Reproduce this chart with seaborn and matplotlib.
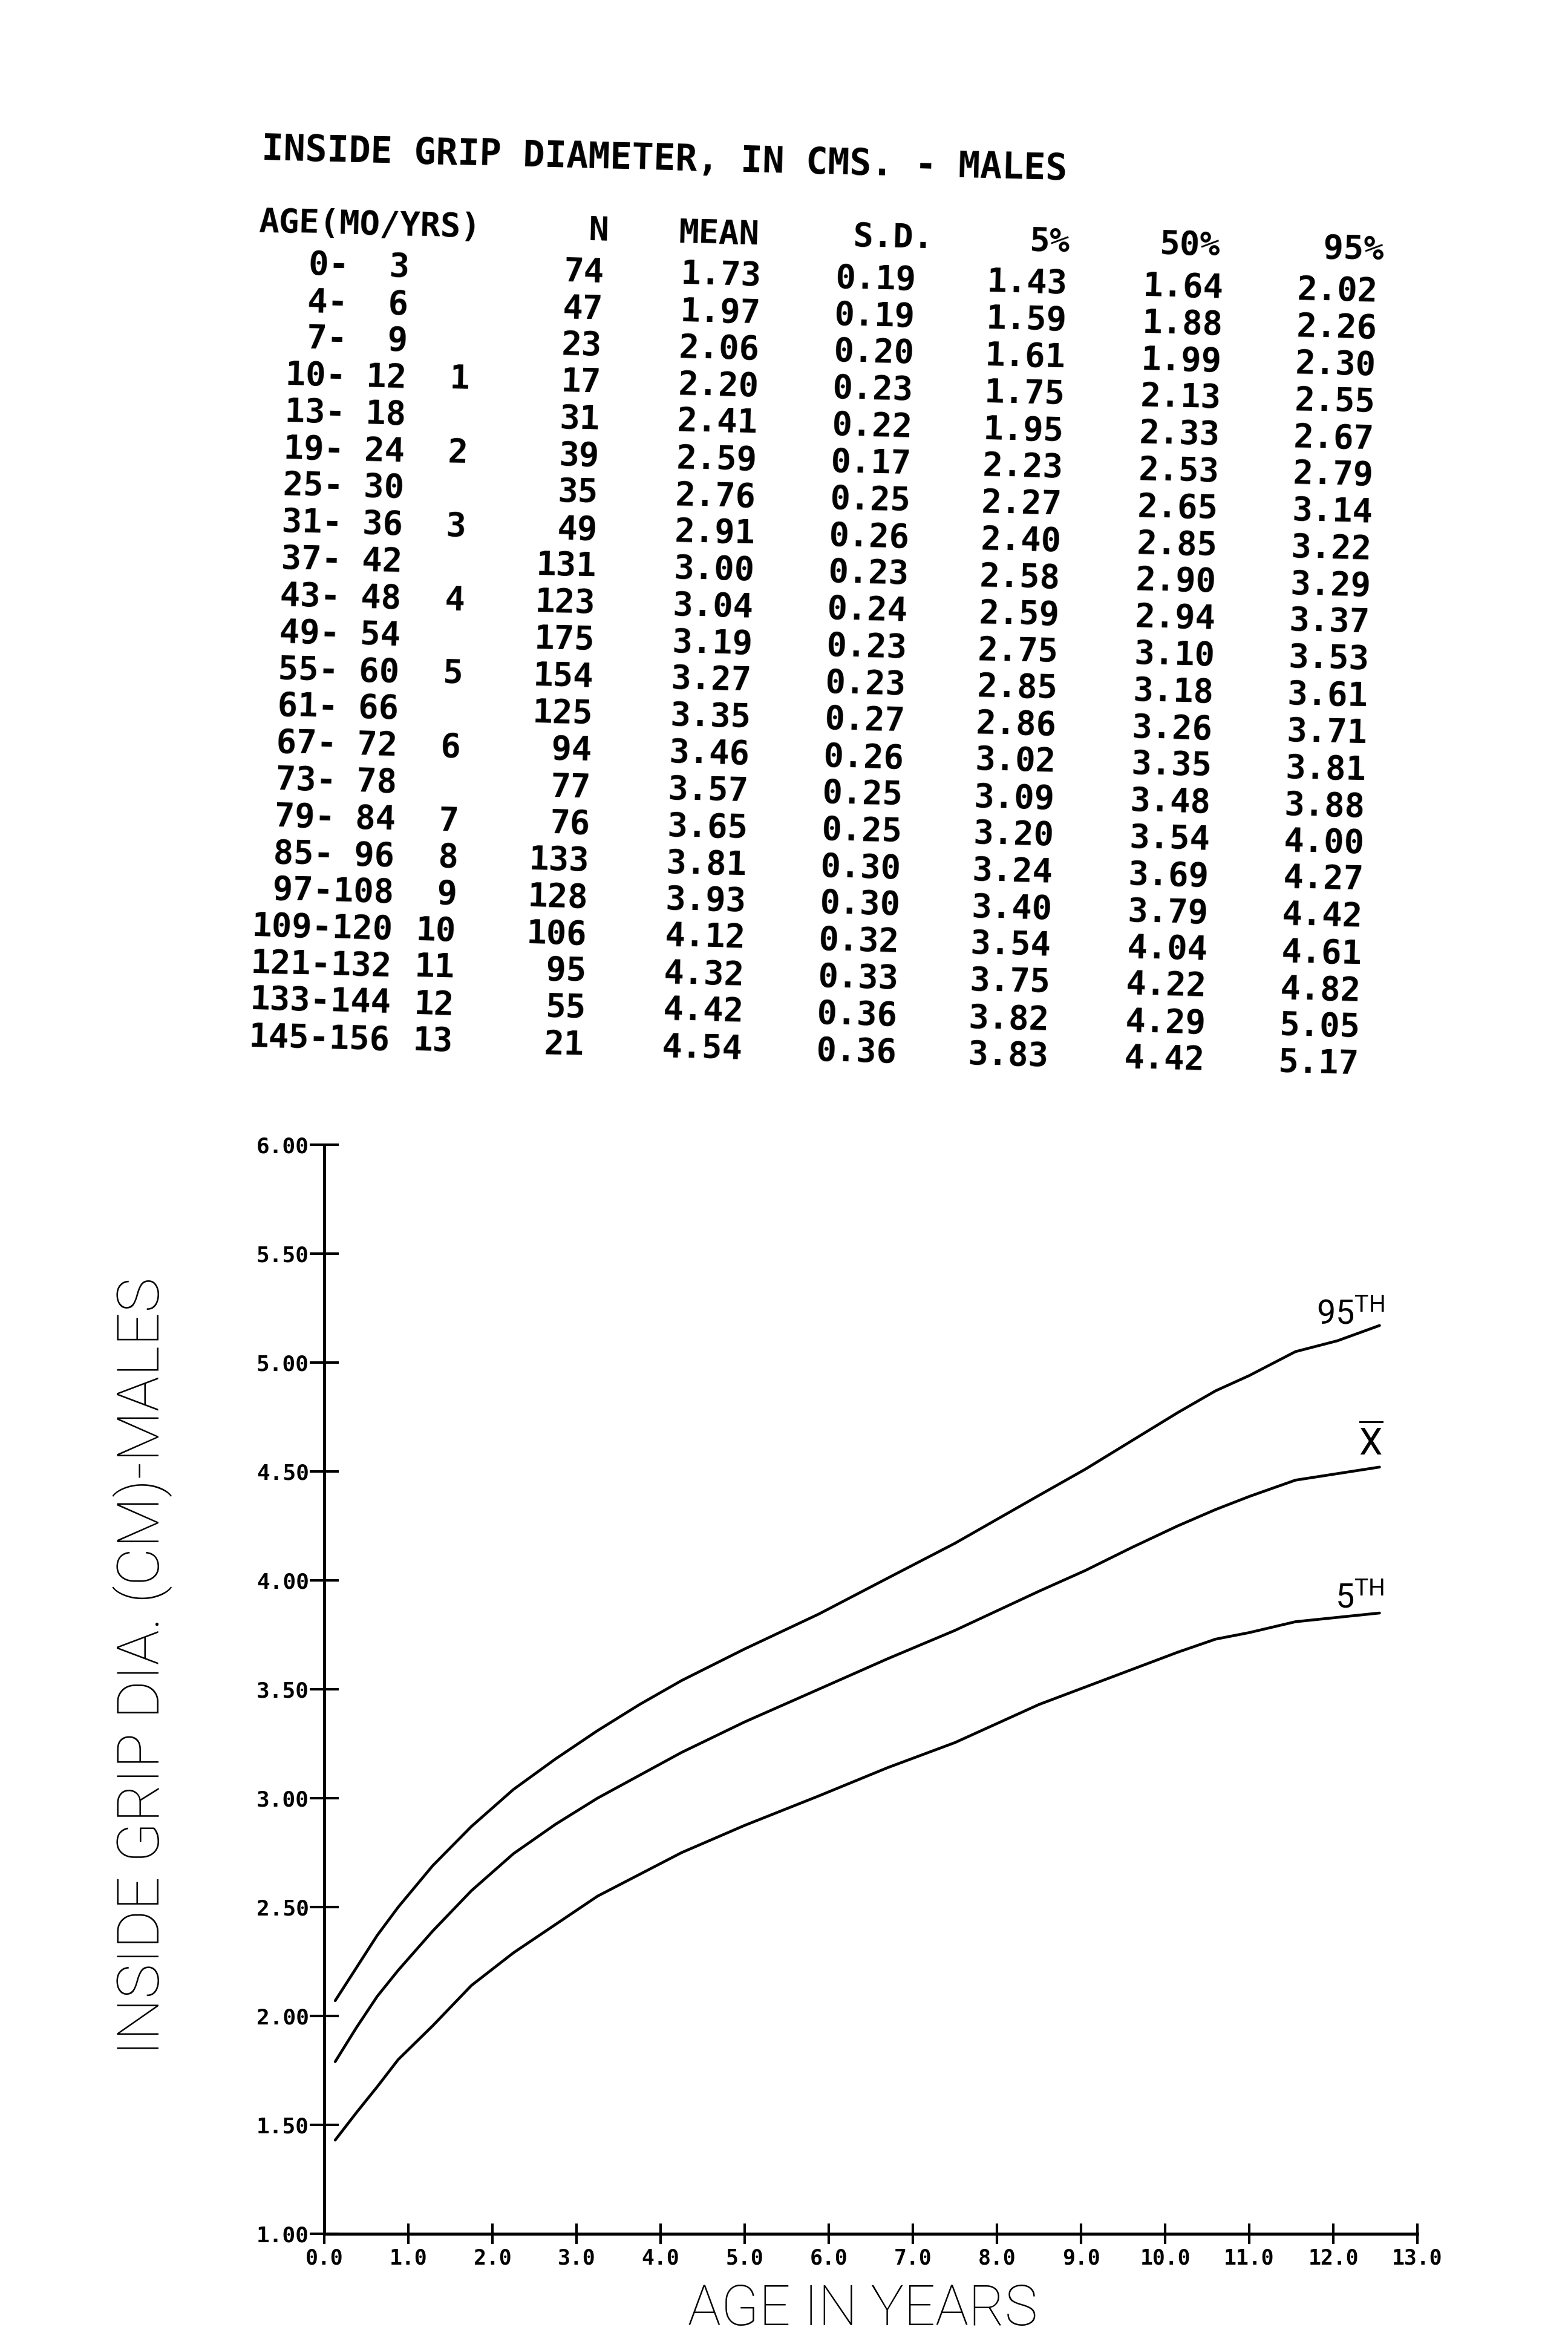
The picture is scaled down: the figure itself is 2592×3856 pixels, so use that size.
import numpy as np
import pandas as pd
import matplotlib
matplotlib.use("Agg")
import matplotlib.pyplot as plt
import seaborn as sns

# ---------------------------------------------------------------
# Table data: inside grip diameter (cm), males
# ---------------------------------------------------------------
age_lo = [0, 4, 7, 10, 13, 19, 25, 31, 37, 43, 49, 55, 61, 67, 73, 79, 85, 97, 109, 121, 133, 145]
age_hi = [3, 6, 9, 12, 18, 24, 30, 36, 42, 48, 54, 60, 66, 72, 78, 84, 96, 108, 120, 132, 144, 156]
age_yrs = ["", "", "", "1", "", "2", "", "3", "", "4", "", "5", "", "6", "", "7", "8", "9", "10", "11", "12", "13"]
n_obs = [74, 47, 23, 17, 31, 39, 35, 49, 131, 123, 175, 154, 125, 94, 77, 76, 133, 128, 106, 95, 55, 21]
mean = [1.73, 1.97, 2.06, 2.20, 2.41, 2.59, 2.76, 2.91, 3.00, 3.04, 3.19, 3.27, 3.35, 3.46, 3.57, 3.65,
        3.81, 3.93, 4.12, 4.32, 4.42, 4.54]
sd = [0.19, 0.19, 0.20, 0.23, 0.22, 0.17, 0.25, 0.26, 0.23, 0.24, 0.23, 0.23, 0.27, 0.26, 0.25, 0.25,
      0.30, 0.30, 0.32, 0.33, 0.36, 0.36]
pct5 = [1.43, 1.59, 1.61, 1.75, 1.95, 2.23, 2.27, 2.40, 2.58, 2.59, 2.75, 2.85, 2.86, 3.02, 3.09, 3.20,
        3.24, 3.40, 3.54, 3.75, 3.82, 3.83]
pct50 = [1.64, 1.88, 1.99, 2.13, 2.33, 2.53, 2.65, 2.85, 2.90, 2.94, 3.10, 3.18, 3.26, 3.35, 3.48, 3.54,
         3.69, 3.79, 4.04, 4.22, 4.29, 4.42]
pct95 = [2.02, 2.26, 2.30, 2.55, 2.67, 2.79, 3.14, 3.22, 3.29, 3.37, 3.53, 3.61, 3.71, 3.81, 3.88, 4.00,
         4.27, 4.42, 4.61, 4.82, 5.05, 5.17]

# Curves as drawn on the chart (age in years)
curve_age = [0.13, 0.38, 0.63, 0.88, 1.29, 1.75, 2.25, 2.75, 3.25, 3.75, 4.25, 5.0, 5.88, 6.7, 7.5,
             8.5, 9.05, 9.6, 10.15, 10.6, 11.0, 11.55, 12.05, 12.55]
curve_p95 = [2.07, 2.22, 2.37, 2.50, 2.69, 2.87, 3.04, 3.18, 3.31, 3.43, 3.54, 3.685, 3.845, 4.01, 4.17,
             4.39, 4.51, 4.64, 4.77, 4.87, 4.94, 5.05, 5.10, 5.17]
curve_mean = [1.79, 1.945, 2.09, 2.21, 2.39, 2.575, 2.745, 2.88, 3.00, 3.105, 3.21, 3.35, 3.50, 3.64, 3.77,
              3.95, 4.045, 4.15, 4.25, 4.325, 4.385, 4.46, 4.49, 4.52]
curve_p5 = [1.43, 1.555, 1.675, 1.80, 1.955, 2.14, 2.29, 2.42, 2.55, 2.65, 2.75, 2.875, 3.01, 3.14, 3.255,
            3.43, 3.51, 3.59, 3.67, 3.73, 3.76, 3.81, 3.83, 3.85]

x_ticks = list(range(0, 14))
y_ticks = [1.0, 1.5, 2.0, 2.5, 3.0, 3.5, 4.0, 4.5, 5.0, 5.5, 6.0]

# ---------------------------------------------------------------
# Style
# ---------------------------------------------------------------
sns.set_theme(style="white")
plt.rcParams["font.family"] = ["DejaVu Sans Mono", "DejaVu Sans"]
plt.rcParams["mathtext.fontset"] = "custom"
plt.rcParams["mathtext.rm"] = "Roboto"
plt.rcParams["mathtext.it"] = "Roboto"

W, H = 2592, 3856
fig = plt.figure(figsize=(W / 100, H / 100), dpi=100)
fig.patch.set_facecolor("white")

# the scanned page is tilted a little; the table follows that tilt
TILT = 0.025
X0, Y0 = 433, 246
ANG = -np.degrees(TILT)
mono = dict(family=["DejaVu Sans Mono", "DejaVu Sans"], weight="bold", color="black")


def put(x, y, s, ha="left", size=40):
    xr = x - TILT * (y - Y0)
    yr = y + TILT * (x - X0)
    fig.text(xr / W, 1 - yr / H, s, ha=ha, va="baseline", rotation=ANG,
             rotation_mode="anchor", fontsize=size, **mono)


# title and header
put(433, 264, "INSIDE GRIP DIAMETER, IN CMS. - MALES", size=43)
put(431, 383, "AGE(MO/YRS)")
for txt, xr in [("N", 1010), ("MEAN", 1259), ("S.D.", 1546), ("5%", 1771), ("50%", 2020), ("95%", 2291)]:
    put(xr, 383, txt, ha="right")

# rows
for i in range(len(age_lo)):
    yb = 432 + i * 60.8 + 20
    put(448, yb, f"{age_lo[i]:3d}-{age_hi[i]:3d}")
    put(786, yb, age_yrs[i], ha="right")
    put(1003, yb, f"{n_obs[i]}", ha="right")
    put(1264, yb, f"{mean[i]:.2f}", ha="right")
    put(1519, yb, f"{sd[i]:.2f}", ha="right")
    put(1770, yb, f"{pct5[i]:.2f}", ha="right")
    put(2028, yb, f"{pct50[i]:.2f}", ha="right")
    put(2283, yb, f"{pct95[i]:.2f}", ha="right")

# ---------------------------------------------------------------
# Chart
# ---------------------------------------------------------------
curves = pd.DataFrame({"age": curve_age, "p95": curve_p95, "mean": curve_mean, "p5": curve_p5})
curves = curves.melt(id_vars="age", var_name="curve", value_name="diam")

ax = fig.add_axes([536 / W, 1 - 3692 / H, 1807 / W, 1800 / H])
sns.lineplot(data=curves, x="age", y="diam", hue="curve",
             palette={"p95": "black", "mean": "black", "p5": "black"},
             estimator=None, sort=False, legend=False, lw=3.3, ax=ax)
ax.set_xlim(0, 13)
ax.set_ylim(1, 6)
sns.despine(ax=ax)
for side in ["left", "bottom"]:
    ax.spines[side].set_linewidth(3.6)
    ax.spines[side].set_color("black")

ax.set_xticks(x_ticks)
ax.set_xticklabels([f"{v:.1f}" for v in x_ticks])
ax.set_yticks(y_ticks)
ax.set_yticklabels([f"{v:.2f}" for v in y_ticks])
ax.tick_params(axis="y", left=True, direction="inout", length=34, width=3.0, pad=1,
               labelsize=26, colors="black")
ax.tick_params(axis="x", bottom=True, direction="inout", length=24, width=3.0, pad=5,
               labelsize=25, colors="black")
for lab in ax.get_xticklabels() + ax.get_yticklabels():
    lab.set_fontweight("bold")
    lab.set_family(["DejaVu Sans Mono", "DejaVu Sans"])
ax.set_xlabel("")
ax.set_ylabel("")

thin = dict(family=["Roboto", "DejaVu Sans"], weight="light", color="black")
fig.text(263 / W, 1 - 2754 / H, "INSIDE GRIP DIA. (CM)-MALES", rotation=90, ha="center",
         va="baseline", rotation_mode="anchor", fontsize=70, **thin)
fig.text(1426 / W, 1 - 3843 / H, "AGE IN YEARS", ha="center", va="baseline",
         fontsize=66, **thin)

# curve labels at the right ends
ends = [(curve_p95[-1], r"95$^{\rm TH}$", 6, 2, 40),
        (curve_mean[-1], r"$\overline{\rm X}$", 4, 14, 44),
        (curve_p5[-1], r"5$^{\rm TH}$", 6, 6, 40)]
for yv, txt, dx, dy, fs in ends:
    ax.annotate(txt, xy=(curve_age[-1], yv), xytext=(dx, dy), textcoords="offset points",
                ha="right", va="baseline", fontsize=fs, family=["Roboto", "DejaVu Sans"],
                color="black", annotation_clip=False)

fig.savefig("out.png", dpi=100, facecolor="white")
